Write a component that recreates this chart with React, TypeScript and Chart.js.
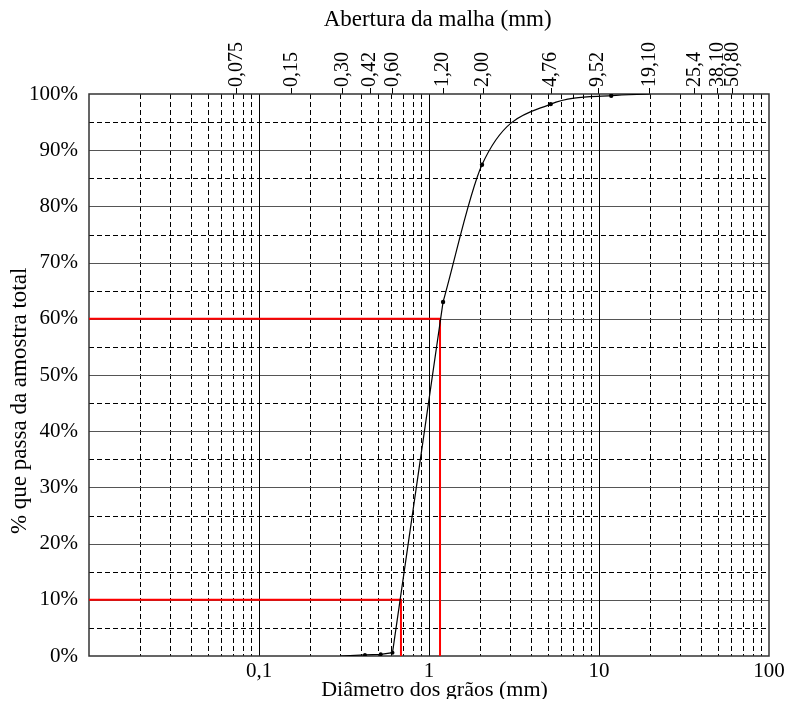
import React, { useEffect, useRef } from "react";
import { Chart, registerables } from "chart.js";

Chart.register(...registerables);

// Granulometric curve (lower straight part and upper smooth part)
const lowerSizes = [0.3, 0.42, 0.52, 0.61, 1.21];
const lowerPassing = [0, 0.2, 0.3, 0.6, 63];
const upperSizes = [1.21, 2.05, 5.2, 11.8, 19.9];
const upperPassing = [63, 87.4, 98.2, 99.7, 100];

// Characteristic diameters
const d10 = 0.684;
const d60 = 1.161;

// Top axis: sieve openings (as placed in the figure) and their labels
const sievePositions = [0.074, 0.155, 0.31, 0.45, 0.61, 1.21, 2.08, 5.22, 9.87, 19.95, 36.7, 50.1, 61.4];
const sieveLabels = ["0,075", "0,15", "0,30", "0,42", "0,60", "1,20", "2,00", "4,76", "9,52", "19,10", "25,4", "38,10", "50,80"];

// Bottom axis
const bottomTickValues = [0.1, 1, 10, 100];
const bottomTickLabels = ["0,1", "1", "10", "100"];

// Y axis
const yTickValues = [0, 10, 20, 30, 40, 50, 60, 70, 80, 90, 100];
const yMinorGrid = [5, 15, 25, 35, 45, 55, 65, 75, 85, 95];
const yMajorGrid = [10, 20, 30, 40, 50, 60, 70, 80, 90];

// X grid
const decades = [0.01, 0.1, 1, 10];
const xMajorGrid = [0.1, 1, 10];
const minorMultipliers = [2, 3, 4, 5, 6, 7, 8, 9];

const FONT = "'Liberation Serif', 'Times New Roman', serif";
const NB = "\u00a0";

const gridPlugin = {
  id: "granGrid",
  beforeDatasetsDraw(chart: any) {
    const { ctx, chartArea } = chart;
    const { left, right, top, bottom } = chartArea;
    const x = chart.scales.x;
    const y = chart.scales.y;
    const line = (x1: number, y1: number, x2: number, y2: number) => {
      ctx.beginPath();
      ctx.moveTo(x1, y1);
      ctx.lineTo(x2, y2);
      ctx.stroke();
    };
    ctx.save();
    ctx.lineWidth = 1;
    ctx.strokeStyle = "#000";
    ctx.setLineDash([5, 3]);
    for (const v of yMinorGrid) {
      const py = Math.round(y.getPixelForValue(v)) + 0.5;
      line(left, py, right, py);
    }
    for (const d of decades) {
      for (const m of minorMultipliers) {
        const px = Math.round(x.getPixelForValue(d * m)) + 0.5;
        line(px, top, px, bottom);
      }
    }
    ctx.setLineDash([]);
    ctx.strokeStyle = "#555";
    for (const v of yMajorGrid) {
      const py = Math.round(y.getPixelForValue(v)) + 0.5;
      line(left, py, right, py);
    }
    ctx.strokeStyle = "#000";
    for (const v of xMajorGrid) {
      const px = Math.round(x.getPixelForValue(v)) + 0.5;
      line(px, top, px, bottom);
    }
    ctx.strokeStyle = "#333";
    ctx.lineWidth = 1.5;
    ctx.strokeRect(left, top, right - left, bottom - top);
    ctx.restore();
  },
};

export default function App() {
  const ref = useRef<HTMLCanvasElement | null>(null);

  useEffect(() => {
    if (!ref.current) return;
    const toPts = (xs: number[], ys: number[]) => xs.map((v, i) => ({ x: v, y: ys[i] }));
    const chart = new Chart(ref.current, {
      type: "line",
      data: {
        datasets: [
          {
            data: toPts(lowerSizes, lowerPassing),
            borderColor: "#000",
            backgroundColor: "#000",
            borderWidth: 1.2,
            pointRadius: [0, 2, 2, 2, 2.2],
            pointBorderWidth: 0,
            tension: 0,
            fill: false,
          },
          {
            data: toPts(upperSizes, upperPassing),
            borderColor: "#000",
            backgroundColor: "#000",
            borderWidth: 1.2,
            pointRadius: [0, 2.2, 2.2, 2.2, 0],
            pointBorderWidth: 0,
            cubicInterpolationMode: "monotone",
            fill: false,
          },
          {
            data: [
              { x: 0.01, y: 60 },
              { x: d60, y: 60 },
              { x: d60, y: 0 },
            ],
            borderColor: "#ff0000",
            borderWidth: 2,
            pointRadius: 0,
            tension: 0,
            fill: false,
          },
          {
            data: [
              { x: 0.01, y: 10 },
              { x: d10, y: 10 },
              { x: d10, y: 0 },
            ],
            borderColor: "#ff0000",
            borderWidth: 2,
            pointRadius: 0,
            tension: 0,
            fill: false,
          },
        ],
      },
      options: {
        animation: false,
        responsive: false,
        layout: { padding: { left: 0, right: 20, top: 0, bottom: 0 } },
        plugins: { legend: { display: false }, tooltip: { enabled: false } },
        scales: {
          x: {
            type: "logarithmic",
            position: "bottom",
            min: 0.01,
            max: 100,
            afterBuildTicks: (s: any) => {
              s.ticks = bottomTickValues.map((v) => ({ value: v }));
            },
            afterFit: (s: any) => {
              s.height = 43;
            },
            grid: { display: false },
            border: { display: false },
            ticks: {
              autoSkip: false,
              minRotation: 0,
              maxRotation: 0,
              padding: -5,
              color: "#000",
              font: { family: FONT, size: 21 },
              callback: (_v: any, i: number) => bottomTickLabels[i],
            },
            title: {
              display: true,
              text: NB + NB + "Diâmetro dos grãos (mm)",
              color: "#000",
              font: { family: FONT, size: 22, lineHeight: 1 },
              padding: { top: 0, bottom: -2 },
            },
          },
          x2: {
            type: "logarithmic",
            position: "top",
            axis: "x",
            min: 0.01,
            max: 100,
            afterBuildTicks: (s: any) => {
              s.ticks = sievePositions.map((v) => ({ value: v }));
            },
            afterFit: (s: any) => {
              s.height = 86;
            },
            grid: {
              display: true,
              drawOnChartArea: false,
              drawTicks: true,
              tickLength: 6,
              color: "#000",
              lineWidth: 1,
            },
            border: { display: false },
            ticks: {
              autoSkip: false,
              minRotation: 90,
              maxRotation: 90,
              padding: 1,
              labelOffset: 24,
              color: "#000",
              font: { family: FONT, size: 20 },
              callback: (_v: any, i: number) => sieveLabels[i],
            },
            title: {
              display: true,
              text: NB + NB + NB + "Abertura da malha (mm)",
              color: "#000",
              font: { family: FONT, size: 23, lineHeight: 1 },
              padding: 0,
            },
          },
          y: {
            type: "linear",
            min: 0,
            max: 100,
            afterBuildTicks: (s: any) => {
              s.ticks = yTickValues.map((v) => ({ value: v }));
            },
            afterFit: (s: any) => {
              s.width = 81;
            },
            grid: { display: false },
            border: { display: false },
            ticks: {
              padding: 3,
              color: "#000",
              font: { family: FONT, size: 21 },
              callback: (v: any) => v + "%",
            },
            title: {
              display: true,
              text: "% que passa da amostra total" + NB.repeat(9),
              color: "#000",
              font: { family: FONT, size: 23, lineHeight: 1 },
              padding: 0,
            },
          },
        },
      },
      plugins: [gridPlugin],
    } as any);
    return () => chart.destroy();
  }, []);

  return <canvas ref={ref} width={781} height={691} style={{ display: "block" }} />;
}
